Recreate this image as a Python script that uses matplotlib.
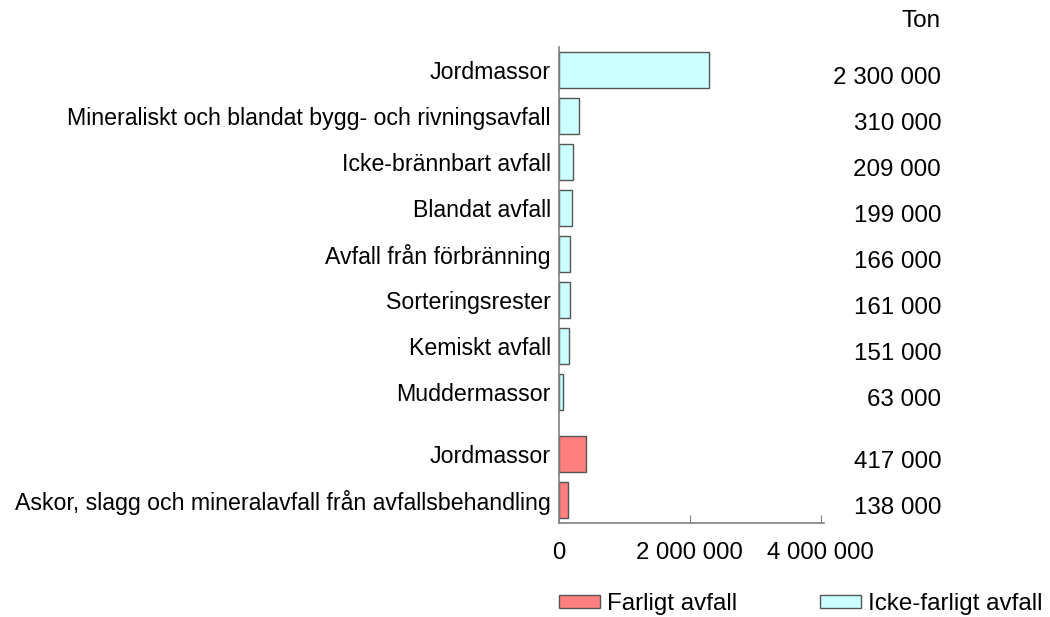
import numpy as np
import matplotlib.pyplot as plt
from matplotlib.patches import Patch

plt.rcParams['font.family'] = ['Liberation Sans', 'DejaVu Sans']

icke_labels = ["Jordmassor", "Mineraliskt och blandat bygg- och rivningsavfall",
               "Icke-brännbart avfall", "Blandat avfall", "Avfall från förbränning",
               "Sorteringsrester", "Kemiskt avfall", "Muddermassor"]
icke_values = [2300000, 310000, 209000, 199000, 166000, 161000, 151000, 63000]
icke_text = ["2 300 000", "310 000", "209 000", "199 000", "166 000",
             "161 000", "151 000", "63 000"]

farligt_labels = ["Jordmassor", "Askor, slagg och mineralavfall från avfallsbehandling"]
farligt_values = [417000, 138000]
farligt_text = ["417 000", "138 000"]

cyan = '#CCFFFF'
red = '#FF7F7F'
edge = '#555555'

fig = plt.figure(figsize=(10.5, 6.17), dpi=100)
ax = fig.add_axes([559 / 1050, 1 - 523 / 617, (824 - 559) / 1050, (523 - 47) / 617])

y_icke = np.arange(len(icke_values))
y_farl = len(icke_values) - 1 + 1.35 + np.arange(len(farligt_values))

ax.barh(y_icke, icke_values, height=0.78, color=cyan, edgecolor=edge, linewidth=1)
ax.barh(y_farl, farligt_values, height=0.78, color=red, edgecolor=edge, linewidth=1)

ax.set_ylim(y_farl[-1] + 0.5, -0.5)
ax.set_xlim(0, 4050000)
ax.set_yticks(np.concatenate([y_icke, y_farl]))
ax.set_yticklabels(icke_labels + farligt_labels, fontsize=16.7)
ax.tick_params(axis='y', length=0, pad=6)
ax.set_xticks([0, 2000000, 4000000])
ax.set_xticklabels(["0", "2 000 000", "4 000 000"], fontsize=17.3)
ax.tick_params(axis='x', direction='in', length=6, color='#808080', pad=14)

for s in ['top', 'right']:
    ax.spines[s].set_visible(False)
for s in ['left', 'bottom']:
    ax.spines[s].set_color('#808080')
    ax.spines[s].set_linewidth(1.2)

tr = ax.get_yaxis_transform()
xt = (941 - 559) / (824 - 559)
for y, t in zip(y_icke, icke_text):
    ax.text(xt, y + 0.17, t, transform=tr, ha='right', va='center', fontsize=17.4, clip_on=False)
for y, t in zip(y_farl, farligt_text):
    ax.text(xt, y + 0.17, t, transform=tr, ha='right', va='center', fontsize=17.4, clip_on=False)
fig.text(941 / 1050, 1 - 21 / 617, "Ton", ha='right', va='center', fontsize=17.5)

leg_kw = dict(loc='center left', frameon=False, fontsize=17.4, handlelength=1.7,
              handleheight=0.5, handletextpad=0.3, borderpad=0, borderaxespad=0)
fig.legend(handles=[Patch(facecolor=red, edgecolor=edge, label="Farligt avfall")],
           bbox_to_anchor=(559 / 1050, 1 - 604 / 617), **leg_kw)
fig.legend(handles=[Patch(facecolor=cyan, edgecolor=edge, label="Icke-farligt avfall")],
           bbox_to_anchor=(820 / 1050, 1 - 604 / 617), **leg_kw)

fig.savefig('out.png', dpi=100)
